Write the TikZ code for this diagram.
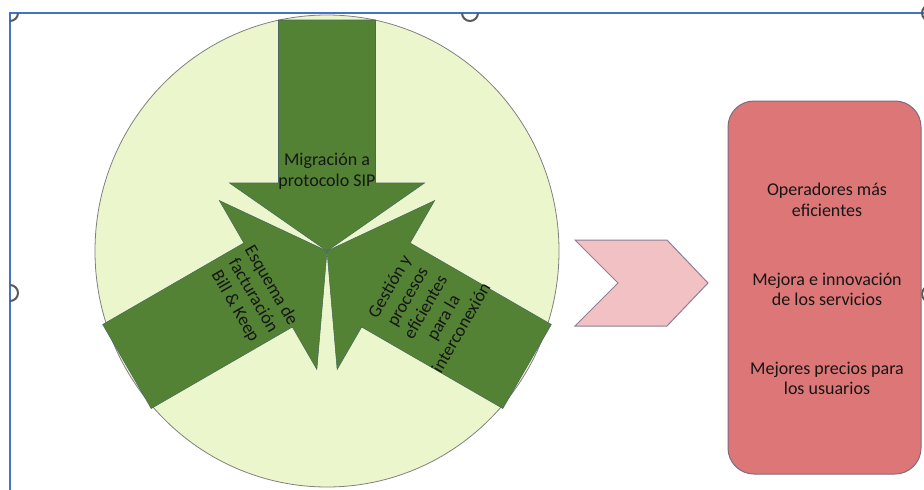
\documentclass[tikz,border=0pt]{standalone}
\usepackage{fontspec}
\setmainfont{Carlito}
\usepackage{tikz}

\begin{document}
\begin{tikzpicture}[x=0.75pt,y=0.75pt,yscale=-1,xscale=1,
  greenarrow/.style={fill={rgb, 255:red, 84; green, 130; blue, 53 }, draw={rgb, 255:red, 72; green, 104; blue, 96 }, line width=0.4},
  lbl/.style={inner sep=0.75pt, align=center, font=\fontsize{13.5}{15.5}\selectfont, text={rgb, 255:red, 22; green, 22; blue, 22 }},
  handle/.style={draw={rgb, 255:red, 90; green, 90; blue, 90 }, line width=1.5}]
%set diagram left start at 0, and has height of 489
\useasboundingbox (0,0) rectangle (924,489);

%Straight Lines [id:frame] 
\draw [color={rgb, 255:red, 68; green, 114; blue, 196 }  ,draw opacity=1 ][line width=1.5]  (10,495) -- (10,13) -- (930,13) ;
%Shape: Handles 
\draw [handle] (18,13) arc [start angle=0, end angle=90, radius=8] ;
\draw [handle] (478,13) arc [start angle=0, end angle=180, radius=8] ;
\draw [handle] (10,285) arc [start angle=-90, end angle=90, radius=8] ;
\draw [handle] (930,294) circle [radius=8] ;
\draw [handle] (930,13) circle [radius=8] ;

%Shape: Ellipse [id:circ] 
\draw  [color={rgb, 255:red, 128; green, 128; blue, 128 }  ,draw opacity=1 ][fill={rgb, 255:red, 236; green, 246; blue, 204 }  ,fill opacity=1 ][line width=0.6] (327,251) ellipse [x radius=232, y radius=236] ;

%Shape: Down Arrow [id:arrmig] 
\draw  [greenarrow] (327,251) -- (229.5,183) -- (278.5,183) -- (278.5,20) -- (375.5,20) -- (375.5,183) -- (424.5,183) -- cycle ;
%Shape: Up Right Arrow [id:arrbill] 
\draw  [greenarrow] (327,251) -- (316.86,369.44) -- (292.36,327) -- (151.2,408.5) -- (102.7,324.5) -- (243.86,243) -- (219.36,200.56) -- cycle ;
%Shape: Up Left Arrow [id:arrgest] 
\draw  [greenarrow] (327,251) -- (434.64,200.56) -- (410.14,243) -- (551.3,324.5) -- (502.8,408.5) -- (361.64,327) -- (337.14,369.44) -- cycle ;

%Shape: Chevron [id:chev] 
\draw  [color={rgb, 255:red, 142; green, 126; blue, 150 }  ,draw opacity=1 ][fill={rgb, 255:red, 242; green, 193; blue, 195 }  ,fill opacity=1 ][line width=0.75] (575,240) -- (667,240) -- (708,283) -- (667,326) -- (575,326) -- (618,283) -- cycle ;

%Rounded Rect [id:res] 
\draw  [color={rgb, 255:red, 128; green, 106; blue, 128 }  ,draw opacity=1 ][fill={rgb, 255:red, 221; green, 119; blue, 119 }  ,fill opacity=1 ][line width=0.75][rounded corners=19.5pt] (728,101) rectangle (921,474) ;

% Text Node
\draw (327,171) node (mig) [lbl] {Migración a\\protocolo SIP};
% Text Node
\draw (253,296) node (bill) [lbl, rotate=-60] {Esquema de\\facturación\\Bill \& Keep};
% Text Node
\draw (425,307) node (gest) [lbl, rotate=60] {Gestión y\\procesos\\eficientes\\para la\\interconexión};
% Text Node
\draw (827,200) node (oper) [lbl] {Operadores más\\eficientes};
% Text Node
\draw (827,289.5) node (mejora) [lbl] {Mejora e innovación\\de los servicios};
% Text Node
\draw (827,378.5) node (precio) [lbl] {Mejores precios para\\los usuarios};

\end{tikzpicture}
\end{document}
